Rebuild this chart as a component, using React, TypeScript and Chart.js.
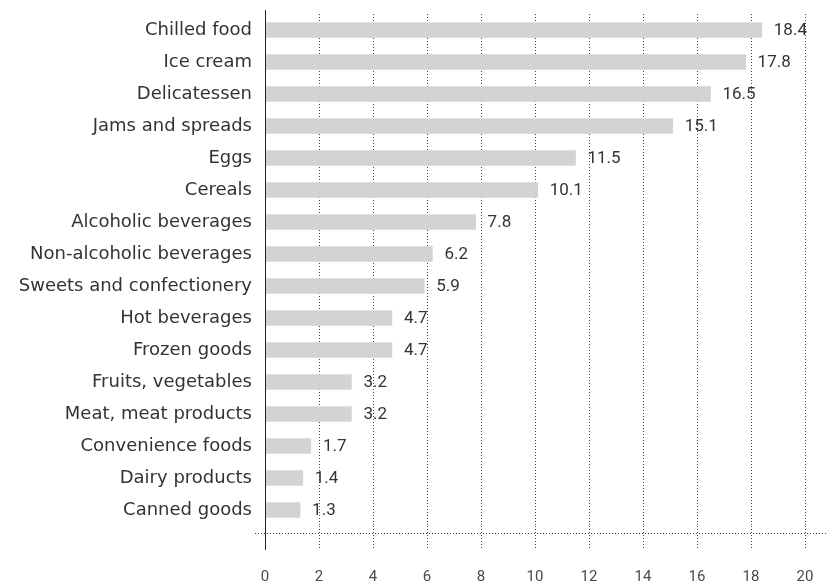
import React, { useEffect, useRef } from 'react';
import { Chart, registerables } from 'chart.js';

Chart.register(...registerables);

const categories = [
  'Chilled food',
  'Ice cream',
  'Delicatessen',
  'Jams and spreads',
  'Eggs',
  'Cereals',
  'Alcoholic beverages',
  'Non-alcoholic beverages',
  'Sweets and confectionery',
  'Hot beverages',
  'Frozen goods',
  'Fruits, vegetables',
  'Meat, meat products',
  'Convenience foods',
  'Dairy products',
  'Canned goods',
];
const values = [18.4, 17.8, 16.5, 15.1, 11.5, 10.1, 7.8, 6.2, 5.9, 4.7, 4.7, 3.2, 3.2, 1.7, 1.4, 1.3];
const xMin = 0;
const xMax = 20;
const xStep = 2;

const CAT_FONT = '"DejaVu Sans", sans-serif';
const NUM_FONT = 'Roboto, "Noto Sans", sans-serif';
const TEXT = '#333333';
const TICK_TEXT = '#4a4a4a';
const DOT = '#444444';

const decor = {
  id: 'decor',
  afterDatasetsDraw(chart: any) {
    const { ctx } = chart;
    const meta = chart.getDatasetMeta(0);
    ctx.save();
    ctx.font = `17px ${NUM_FONT}`;
    ctx.fillStyle = TEXT;
    ctx.textAlign = 'left';
    ctx.textBaseline = 'middle';
    meta.data.forEach((bar: any, i: number) => {
      ctx.fillText(values[i].toFixed(1), bar.x + 12, bar.y + 1);
    });
    ctx.restore();
  },
  afterDraw(chart: any) {
    const { ctx, chartArea } = chart;
    const x0 = chart.scales.x.getPixelForValue(0);
    ctx.save();
    // dotted horizontal axis line
    ctx.strokeStyle = DOT;
    ctx.lineWidth = 1;
    ctx.setLineDash([1, 2]);
    ctx.beginPath();
    ctx.moveTo(x0 - 10, chartArea.bottom + 7.5);
    ctx.lineTo(chart.width, chartArea.bottom + 7.5);
    ctx.stroke();
    // solid vertical axis line
    ctx.setLineDash([]);
    ctx.strokeStyle = '#222222';
    ctx.beginPath();
    ctx.moveTo(Math.round(x0) + 0.5, chartArea.top - 4);
    ctx.lineTo(Math.round(x0) + 0.5, chartArea.bottom + 24);
    ctx.stroke();
    ctx.restore();
  },
};

export default function App() {
  const ref = useRef<HTMLCanvasElement | null>(null);
  useEffect(() => {
    if (!ref.current) return;
    const chart = new Chart(ref.current, {
      type: 'bar',
      data: {
        labels: categories,
        datasets: [
          {
            data: values,
            backgroundColor: '#d3d3d5',
            borderWidth: 0,
            barThickness: 15,
          },
        ],
      },
      options: {
        indexAxis: 'y',
        animation: false,
        responsive: false,
        maintainAspectRatio: false,
        layout: { padding: { top: 14, right: 22, left: 0, bottom: 0 } },
        plugins: {
          legend: { display: false },
          tooltip: { enabled: false },
          title: { display: false },
        },
        scales: {
          x: {
            type: 'linear',
            min: xMin,
            max: xMax,
            ticks: {
              stepSize: xStep,
              color: TICK_TEXT,
              font: { family: NUM_FONT, size: 15 },
              padding: 18,
            },
            grid: {
              color: DOT,
              lineWidth: 1,
              drawTicks: true,
              tickLength: 24,
              tickColor: DOT,
              tickBorderDash: [1, 2],
            },
            border: { display: false, dash: [1, 2] },
            afterFit(scale: any) {
              scale.height = 57;
              scale.paddingLeft = 0;
              scale.paddingRight = 0;
            },
          },
          y: {
            ticks: {
              color: TEXT,
              font: { family: CAT_FONT, size: 18 },
              padding: 13,
            },
            grid: { display: false, drawTicks: false },
            border: { display: false },
            afterFit(scale: any) {
              scale.width = 265;
              scale.paddingTop = 0;
              scale.paddingBottom = 0;
            },
          },
        },
      },
      plugins: [decor],
    });
    return () => chart.destroy();
  }, []);
  return (
    <div style={{ position: 'fixed', left: 0, top: 0, width: 827, height: 583, background: '#fff' }}>
      <canvas ref={ref} width={827} height={583} style={{ display: 'block', width: 827, height: 583 }} />
    </div>
  );
}
